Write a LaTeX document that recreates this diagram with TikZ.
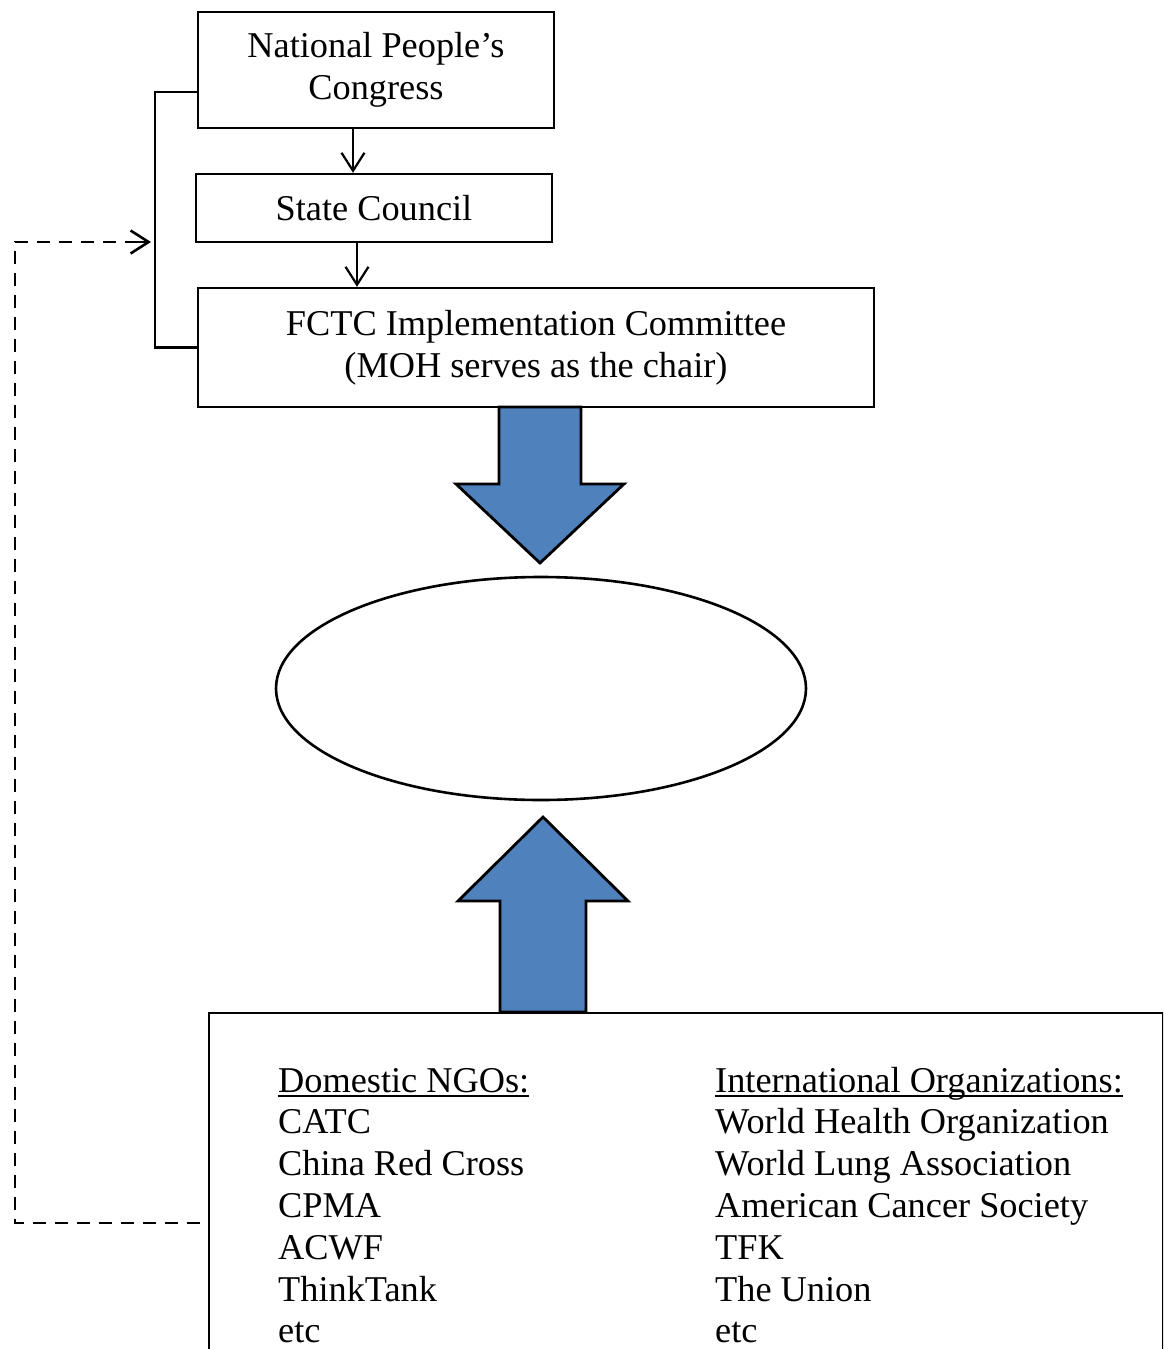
\documentclass[tikz,border=0pt]{standalone}
\usepackage{fontspec}
\setmainfont{Liberation Serif}
\usetikzlibrary{arrows.meta,shapes.geometric}
\definecolor{boxblue}{HTML}{4F81BD}
\newcommand\myul[1]{\setbox0\hbox{#1}\rlap{\rule[-4.5pt]{\wd0}{1.8pt}}\box0}
\begin{document}
\begin{tikzpicture}[x=1pt,y=-1pt,
 txt/.style={font=\fontsize{36.3}{42}\selectfont},
 box/.style={draw,line width=2.4pt,inner sep=0pt,align=center,txt},
 arr/.style={line width=2.2pt,-{Straight Barb[length=18pt,width=23pt]}},
 dashline/.style={line width=2.8pt,dash pattern=on 13pt off 9pt},
 blk/.style={fill=boxblue,draw=black,line width=2.8pt,line join=miter},
 item/.style={txt,anchor=base west,inner sep=0pt}]
\useasboundingbox (0,0) rectangle (1163,1349);
\clip (0,0) rectangle (1163,1349);
\fill[white] (0,0) rectangle (1163,1349);

% top boxes
\node[box,minimum width=356pt,minimum height=116pt] (npc) at (376,70) {National People’s\\Congress};
\node[box,minimum width=356pt,minimum height=68pt] (sc) at (374,208) {State Council};
\node[box,minimum width=676pt,minimum height=119pt] (fctc) at (536,347.5) {FCTC Implementation Committee\\(MOH serves as the chair)};

% thin arrows
\draw[arr] ([xshift=-23pt]npc.south) -- ([xshift=-23pt]npc.south |- sc.north);
\draw[arr] ([xshift=-17pt]sc.south) -- ([xshift=-17pt]sc.south |- fctc.north);

% bracket
\draw[line width=2.4pt] ([yshift=-22pt]npc.west) -| (155,347.5) -- (fctc.west);

% down block arrow
\draw[blk] (499,407) -- (499,484) -- (456,484) -- (540,563) -- (624,484) -- (581,484) -- (581,407) -- cycle;

% ellipse
\node[draw,ellipse,line width=2.6pt,minimum width=530pt,minimum height=223pt,inner sep=0pt] (ell) at (541,688.5) {};

% bottom box
\node[draw,line width=2.4pt,minimum width=954pt,minimum height=400pt,anchor=north west,inner sep=0pt] (orgs) at (208,1012) {};

% up block arrow
\draw[blk] (500,1012) -- (500,901) -- (458,901) -- (543,817) -- (628,901) -- (586,901) -- (586,1012) -- cycle;

% dashed feedback
\coordinate (dstart) at (200,1223);
\coordinate (brk) at (151,242);
\draw[dashline] (dstart) -- (15,1223) -- (15,242) -- ([xshift=-14pt]brk);
\draw[arr,line width=2.6pt] ([xshift=-14pt]brk) -- (brk);

% lists
\node[item] (dh) at (278,1092) {\myul{Domestic NGOs:}};
\foreach \t [count=\i] in {CATC,China Red Cross,CPMA,ACWF,ThinkTank,etc}
  \node[item] (d\i) at (278,1092+41.8*\i) {\t};
\node[item] (ih) at (715,1092) {\myul{International Organizations:}};
\foreach \t [count=\i] in {World Health Organization,World Lung Association,American Cancer Society,TFK,The Union,etc}
  \node[item] (o\i) at (715,1092+41.8*\i) {\t};
\end{tikzpicture}
\end{document}
